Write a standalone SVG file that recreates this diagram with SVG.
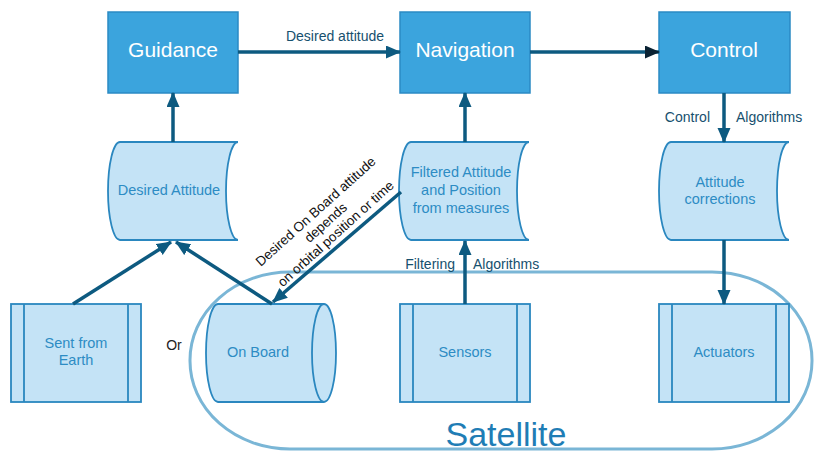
<svg xmlns="http://www.w3.org/2000/svg" width="815" height="454" viewBox="0 0 815 454">
  <style>
    .block { fill: #3ba4dd; stroke: #2b8ac4; stroke-width: 1.5; }
    .block-label { fill: #ffffff; font-family: "Liberation Sans", Arial, sans-serif; font-size: 21px; text-anchor: middle; }
    .store { fill: #c4e3f6; stroke: #2a87bf; stroke-width: 1.8; }
    .store-label { fill: #2d8cc4; font-family: "Liberation Sans", Arial, sans-serif; font-size: 14.5px; text-anchor: middle; }
    .conn { fill: none; stroke: #0d5a80; stroke-width: 3.5; }
    .conn-label { fill: #16506e; font-family: "Liberation Sans", Arial, sans-serif; font-size: 14px; }
    .note { fill: #111111; font-family: "Liberation Sans", Arial, sans-serif; font-size: 13.5px; text-anchor: middle; }
    .boundary { fill: none; stroke: #7ab6d6; stroke-width: 3; }
  </style>
  <defs>
    <marker id="head" markerUnits="userSpaceOnUse" markerWidth="16" markerHeight="14" refX="14" refY="6.5" orient="auto">
      <path d="M0,0 L15,6.5 L0,13 Z" fill="#0d5a80"/>
    </marker>
    <marker id="head-dark" markerUnits="userSpaceOnUse" markerWidth="16" markerHeight="14" refX="14" refY="6.5" orient="auto">
      <path d="M0,0 L15,6.5 L0,13 Z" fill="#0a2233"/>
    </marker>
  </defs>

  <!-- satellite boundary -->
  <g id="satellite">
    <rect class="boundary" x="190" y="272" width="622" height="177" rx="100" ry="88"/>
    <text x="506" y="446" fill="#1f7db5" font-family="Liberation Sans, Arial, sans-serif" font-size="34" text-anchor="middle">Satellite</text>
  </g>

  <!-- top row blocks -->
  <g id="guidance">
    <rect class="block" x="108" y="12" width="130" height="81"/>
    <text class="block-label" x="173" y="57">Guidance</text>
  </g>
  <g id="navigation">
    <rect class="block" x="400" y="12" width="130" height="81"/>
    <text class="block-label" x="465" y="57">Navigation</text>
  </g>
  <g id="control">
    <rect class="block" x="659" y="12" width="131" height="81"/>
    <text class="block-label" x="724" y="57">Control</text>
  </g>

  <!-- stored data nodes -->
  <g id="desired-attitude">
    <path class="store" d="M120,142 H238 A12,49 0 0 0 238,240 H120 A12,49 0 0 1 120,142 Z"/>
    <text class="store-label" x="169" y="195">Desired Attitude</text>
  </g>
  <g id="filtered-attitude">
    <path class="store" d="M411,142 H529 A12,49 0 0 0 529,240 H411 A12,49 0 0 1 411,142 Z"/>
    <text class="store-label" x="461" y="177">Filtered Attitude</text>
    <text class="store-label" x="461" y="195">and Position</text>
    <text class="store-label" x="461" y="213">from measures</text>
  </g>
  <g id="attitude-corrections">
    <path class="store" d="M671,142 H789 A12,49 0 0 0 789,240 H671 A12,49 0 0 1 671,142 Z"/>
    <text class="store-label" x="720" y="187">Attitude</text>
    <text class="store-label" x="720" y="204">corrections</text>
  </g>

  <!-- bottom row -->
  <g id="sent-from-earth">
    <rect class="store" x="11" y="304" width="130" height="98"/>
    <line class="store" x1="24" y1="304" x2="24" y2="402"/>
    <line class="store" x1="128" y1="304" x2="128" y2="402"/>
    <text class="store-label" x="76" y="348">Sent from</text>
    <text class="store-label" x="76" y="365">Earth</text>
  </g>
  <g id="or-label">
    <text x="174" y="350" fill="#222222" font-family="Liberation Sans, Arial, sans-serif" font-size="14" text-anchor="middle">Or</text>
  </g>
  <g id="on-board">
    <path class="store" d="M218,304 H324 A12,49 0 0 1 324,402 H218 A12,49 0 0 1 218,304 Z"/>
    <path class="store" d="M324,304 A12,49 0 0 0 324,402" fill="none"/>
    <text class="store-label" x="258" y="357">On Board</text>
  </g>
  <g id="sensors">
    <rect class="store" x="400" y="304" width="130" height="98"/>
    <line class="store" x1="413" y1="304" x2="413" y2="402"/>
    <line class="store" x1="517" y1="304" x2="517" y2="402"/>
    <text class="store-label" x="465" y="357">Sensors</text>
  </g>
  <g id="actuators">
    <rect class="store" x="659" y="304" width="130" height="98"/>
    <line class="store" x1="672" y1="304" x2="672" y2="402"/>
    <line class="store" x1="776" y1="304" x2="776" y2="402"/>
    <text class="store-label" x="724" y="357">Actuators</text>
  </g>

  <!-- connectors -->
  <g id="connectors">
    <path class="conn" d="M238,52 H400" marker-end="url(#head)"/>
    <path class="conn" d="M530,52 H659" marker-end="url(#head-dark)"/>
    <path class="conn" d="M724,93 V142" marker-end="url(#head)"/>
    <path class="conn" d="M173,142 V93" marker-end="url(#head)"/>
    <path class="conn" d="M465,142 V93" marker-end="url(#head)"/>
    <path class="conn" d="M465,304 V241" marker-end="url(#head)"/>
    <path class="conn" d="M724,240 V304" marker-end="url(#head)"/>
    <path class="conn" d="M73,304 L171,242" marker-end="url(#head)"/>
    <path class="conn" d="M272,304 L176,242" marker-end="url(#head)"/>
    <path class="conn" d="M401,192 L273,302" marker-end="url(#head)"/>

    <text class="conn-label" x="335" y="41" text-anchor="middle">Desired attitude</text>
    <text class="conn-label" x="710" y="122" text-anchor="end">Control</text>
    <text class="conn-label" x="736" y="122">Algorithms</text>
    <text class="conn-label" x="455" y="269" text-anchor="end">Filtering</text>
    <text class="conn-label" x="473" y="269">Algorithms</text>

    <g transform="rotate(-42 326 223)">
      <text class="note" x="326" y="212">Desired On Board attitude</text>
      <text class="note" x="326" y="227">depends</text>
      <text class="note" x="326" y="242">on orbital position or time</text>
    </g>
  </g>
</svg>
